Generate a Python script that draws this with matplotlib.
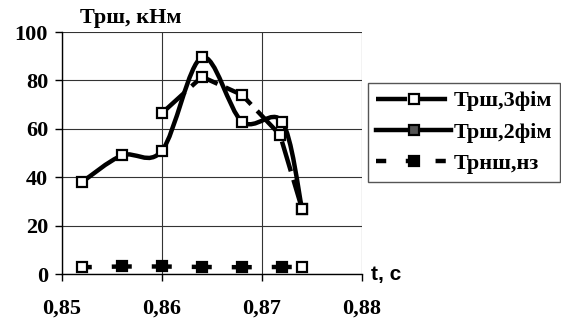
import numpy as np
import matplotlib.pyplot as plt
from matplotlib.path import Path
from matplotlib.patches import PathPatch
from matplotlib.lines import Line2D

# data
t_2fim = [0.852, 0.856, 0.860, 0.864, 0.868, 0.872, 0.874]
m_2fim = [38, 49, 51, 89.5, 63, 63, 27]

t_3fim = [0.860, 0.864, 0.868, 0.8718, 0.874]
m_3fim = [66.5, 81.5, 74, 57.5, 27]

t_nz = [0.852, 0.856, 0.860, 0.864, 0.868, 0.872, 0.874]
m_nz = [2.8, 3.1, 3.1, 2.9, 2.8, 2.9, 2.9]

labels = ['Трш,3фім', 'Трш,2фім', 'Трнш,нз']
xticks = [0.85, 0.86, 0.87, 0.88]
yticks = [0, 20, 40, 60, 80, 100]

serif = 'Liberation Serif'
sans = 'Liberation Sans'
lw = 3.2
ms = 7
fs = 16

fig = plt.figure(figsize=(5.61, 3.22), dpi=100)
ax = fig.add_axes([62 / 561, 1 - 274 / 322, 300 / 561, 242 / 322])


def smooth_path(xs, ys):
    # excel-like smoothed line: bezier with catmull-rom control points
    x = np.array(xs, float)
    y = np.array(ys, float)
    n = len(x)
    verts = [(x[0], y[0])]
    codes = [Path.MOVETO]
    for i in range(n - 1):
        p0 = max(i - 1, 0)
        p3 = min(i + 2, n - 1)
        c1 = (x[i] + (x[i + 1] - x[p0]) / 6, y[i] + (y[i + 1] - y[p0]) / 6)
        c2 = (x[i + 1] - (x[p3] - x[i]) / 6, y[i + 1] - (y[p3] - y[i]) / 6)
        verts += [c1, c2, (x[i + 1], y[i + 1])]
        codes += [Path.CURVE4] * 3
    return Path(verts, codes)


# Трш,2фім - smoothed solid
ax.add_patch(PathPatch(smooth_path(t_2fim, m_2fim), fill=False, lw=lw,
                       edgecolor='black', capstyle='round',
                       joinstyle='round', zorder=3))
ax.plot(t_2fim, m_2fim, ls='none', marker='s', ms=ms, mfc='white',
        mec='black', mew=1.6, zorder=4)

# Трш,3фім - long dash
ax.plot(t_3fim, m_3fim, color='black', lw=lw, ls=(0, (7, 2)),
        marker='s', ms=ms, mfc='white', mec='black', mew=1.6, zorder=3)

# Трнш,нз - dashes centred on the markers
ax.plot(t_nz, m_nz, color='black', lw=lw, ls=(2.3, (4.5, 4.5)),
        marker='s', ms=ms, mfc='black', mec='black', mew=1.6,
        markevery=slice(1, -1), zorder=3)
ax.plot([t_nz[0], t_nz[-1]], [m_nz[0], m_nz[-1]], ls='none', marker='s',
        ms=ms, mfc='white', mec='black', mew=1.6, zorder=4)

ax.set_xlim(0.85, 0.88)
ax.set_ylim(0, 100)
ax.set_xticks(xticks)
ax.set_yticks(yticks)
ax.set_xticklabels([('%.2f' % v).replace('.', ',') for v in xticks])
ax.set_yticklabels([str(v) for v in yticks])
for lab in ax.get_xticklabels() + ax.get_yticklabels():
    lab.set_fontfamily(serif)
    lab.set_fontweight('bold')
    lab.set_fontsize(fs)
ax.tick_params(axis='both', direction='out', length=5, width=1, color='black')
ax.tick_params(axis='x', pad=13)
ax.tick_params(axis='y', pad=5)
ax.grid(True, color='#333333', lw=0.8)
ax.set_axisbelow(True)
for s in ['top', 'right']:
    ax.spines[s].set_visible(False)
for s in ['left', 'bottom']:
    ax.spines[s].set_linewidth(1)
    ax.spines[s].set_zorder(2.5)

# legend
handles = [
    Line2D([], [], color='black', lw=lw, ls=(0, (7, 2)), marker='s', ms=ms,
           mfc='white', mec='black', mew=1.6),
    Line2D([], [], color='black', lw=lw, marker='s', ms=ms, mfc='#555555',
           mec='black', mew=1.6),
    Line2D([], [], color='black', lw=lw, ls=(0, (2.3, 4.4)), marker='s',
           ms=ms, mfc='black', mec='black', mew=1.6),
]
leg = fig.legend(handles, labels, loc='upper left',
                 bbox_to_anchor=(368 / 561, 1 - 83 / 322),
                 bbox_transform=fig.transFigure, borderaxespad=0,
                 prop={'family': serif, 'weight': 'bold', 'size': fs},
                 handlelength=3.4, handletextpad=0.12, labelspacing=0.48,
                 borderpad=0.35, numpoints=1, fancybox=False,
                 edgecolor='#555555', framealpha=1)
leg.get_frame().set_linewidth(1)

fig.text(80 / 561, 1 - 22.5 / 322, 'Трш, кНм', family=serif, weight='bold',
         fontsize=fs, va='baseline', ha='left')
fig.text(371 / 561, 1 - 280 / 322, 't, c', family=sans, weight='bold',
         fontsize=15, va='baseline', ha='left')

fig.savefig('out.png', dpi=100)
